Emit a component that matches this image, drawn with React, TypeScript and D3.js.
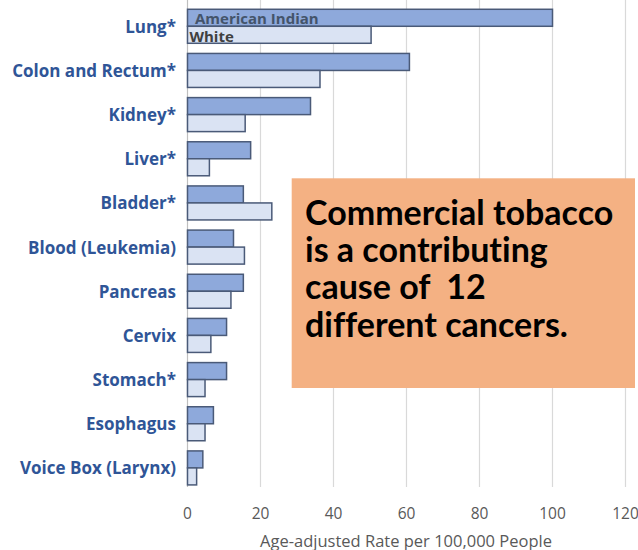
import React from "react";
import * as d3 from "d3";

const categories = [
  "Lung*",
  "Colon and Rectum*",
  "Kidney*",
  "Liver*",
  "Bladder*",
  "Blood (Leukemia)",
  "Pancreas",
  "Cervix",
  "Stomach*",
  "Esophagus",
  "Voice Box (Larynx)",
];
const americanIndian = [100, 60.8, 33.7, 17.3, 15.3, 12.6, 15.3, 10.7, 10.7, 7.1, 4.2];
const white = [50.3, 36.3, 15.8, 6.0, 23.1, 15.6, 11.9, 6.4, 4.8, 4.8, 2.5];
const xTicks = [0, 20, 40, 60, 80, 100, 120];
const seriesNames = ["American Indian", "White"];
const calloutLines = [
  "Commercial tobacco",
  "is a contributing",
  "cause of  12",
  "different cancers.",
];

const W = 638;
const H = 550;

export default function App() {
  const x = d3.scaleLinear().domain([0, 120]).range([187.5, 625.5]);
  const y = d3
    .scaleBand<string>()
    .domain(categories)
    .range([4.2, 490])
    .paddingInner(0.23)
    .paddingOuter(0.115);
  const inner = d3.scaleBand<string>().domain(seriesNames).range([0, y.bandwidth()]);
  const fills = ["#8EA9DB", "#DAE3F3"];
  const stroke = "#4A5A78";
  const seriesData = [americanIndian, white];
  const font = "'Open Sans', sans-serif";
  const plotBottom = 487;

  return (
    <svg
      width={W}
      height={H}
      style={{ position: "absolute", left: 0, top: 0, background: "#fff" }}
      fontFamily={font}
    >
      <rect x={0} y={0} width={W} height={H} fill="#fff" />
      {xTicks.slice(1).map((t) => (
        <line
          key={t}
          x1={x(t)}
          x2={x(t)}
          y1={0}
          y2={plotBottom}
          stroke="#D9D9D9"
          strokeWidth={1.2}
        />
      ))}
      <line x1={x(0)} x2={x(0)} y1={0} y2={plotBottom} stroke="#BFBFBF" strokeWidth={1.2} />

      {categories.map((c, i) =>
        seriesData.map((s, j) => (
          <rect
            key={c + j}
            x={x(0)}
            y={(y(c) as number) + (inner(seriesNames[j]) as number)}
            width={x(s[i]) - x(0)}
            height={inner.bandwidth()}
            fill={fills[j]}
            stroke={stroke}
            strokeWidth={1.5}
          />
        ))
      )}

      <text
        x={195}
        y={(y(categories[0]) as number) + inner.bandwidth() - 2.5}
        fontSize={15}
        fontWeight="bold"
        fill="#44546A"
      >
        {seriesNames[0]}
      </text>
      <text
        x={189.5}
        y={(y(categories[0]) as number) + 2 * inner.bandwidth() - 1.5}
        fontSize={15}
        fontWeight="bold"
        fill="#404040"
      >
        {seriesNames[1]}
      </text>

      {categories.map((c) => (
        <text
          key={c}
          x={176}
          y={(y(c) as number) + y.bandwidth() / 2}
          textAnchor="end"
          dominantBaseline="central"
          fontSize={17}
          fontWeight="bold"
          fill="#2F5597"
        >
          {c}
        </text>
      ))}

      {xTicks.map((t) => (
        <text
          key={t}
          x={x(t)}
          y={513}
          textAnchor="middle"
          dominantBaseline="central"
          fontSize={15.5}
          fill="#595959"
        >
          {t}
        </text>
      ))}
      <text
        x={406}
        y={540}
        textAnchor="middle"
        dominantBaseline="central"
        fontSize={16.5}
        fill="#595959"
      >
        Age-adjusted Rate per 100,000 People
      </text>

      <rect x={291.7} y={178.3} width={343.3} height={209.7} fill="#F4B183" />
      {calloutLines.map((l, i) => (
        <text
          key={i}
          x={305}
          y={225 + i * 37.2}
          fontSize={34}
          fontWeight="bold"
          fontFamily="Lato, sans-serif"
          fill="#000"
          style={{ whiteSpace: "pre", fontVariantLigatures: "none" }}
        >
          {l}
        </text>
      ))}
    </svg>
  );
}
